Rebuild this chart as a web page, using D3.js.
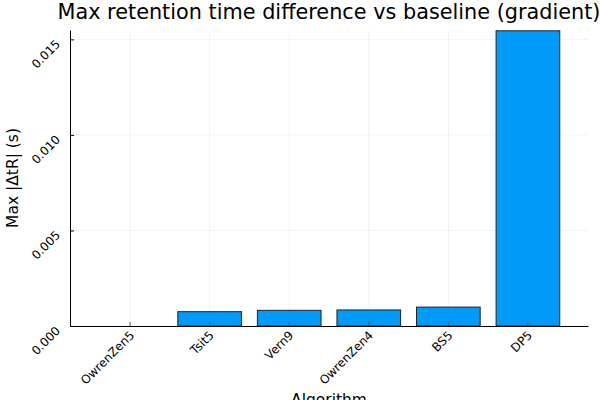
<!DOCTYPE html>
<html>
<head>
<meta charset="utf-8">
<script src="https://cdn.jsdelivr.net/npm/d3@7"></script>
<style>
  html, body { margin: 0; padding: 0; background: #fff; }
  svg { display: block; font-family: "DejaVu Sans", sans-serif; }
</style>
</head>
<body>
<svg id="chart" width="600" height="400"></svg>
<script>
const categories = ["OwrenZen5", "Tsit5", "Vern9", "OwrenZen4", "BS5", "DP5"];
const values = [0.0, 0.00075, 0.00082, 0.00084, 0.00099, 0.01545];
const yTicks = [0.000, 0.005, 0.010, 0.015];
const title = "Max retention time difference vs baseline (gradient)";
const xLabel = "Algorithm";
const yLabel = "Max |ΔtR| (s)";

const svg = d3.select("#chart");
const mLeft = 70, mRight = 588, mTop = 30, mBottom = 326;

const x = d3.scaleBand().domain(categories).range([mLeft, mRight])
  .paddingInner(0.2).paddingOuter(0.355);
const y = d3.scaleLinear().domain([0, 0.01549]).range([mBottom, mTop]);

// grid
const grid = svg.append("g");
grid.selectAll("line.vg").data(categories).enter().append("line")
  .attr("x1", d => x(d) + x.bandwidth() / 2).attr("x2", d => x(d) + x.bandwidth() / 2)
  .attr("y1", mTop).attr("y2", mBottom)
  .attr("stroke", "#000").attr("stroke-opacity", 0.1).attr("stroke-width", 0.5);
grid.selectAll("line.hg").data(yTicks).enter().append("line")
  .attr("x1", mLeft).attr("x2", mRight)
  .attr("y1", d => y(d)).attr("y2", d => y(d))
  .attr("stroke", "#000").attr("stroke-opacity", 0.1).attr("stroke-width", 0.5);

// bars
svg.append("g").selectAll("rect").data(categories).enter().append("rect")
  .attr("x", d => x(d))
  .attr("width", x.bandwidth())
  .attr("y", (d, i) => y(values[i]))
  .attr("height", (d, i) => y(0) - y(values[i]))
  .attr("fill", "#009AFA")
  .attr("stroke", "#222").attr("stroke-width", 1);

// y axis
const yAxis = d3.axisLeft(y).tickValues(yTicks).tickFormat(d3.format(".3f")).tickSizeInner(-4).tickSizeOuter(0);
const gy = svg.append("g").attr("transform", `translate(${mLeft},0)`).call(yAxis);
gy.select(".domain").attr("stroke", "#000").attr("stroke-width", 1);
gy.selectAll(".tick line").attr("stroke", "#000").attr("stroke-width", 1);
gy.selectAll(".tick text")
  .attr("font-size", 12).attr("font-family", "DejaVu Sans").attr("fill", "#000")
  .attr("text-anchor", "end")
  .attr("x", 0).attr("dy", 0)
  .attr("transform", "translate(-9,5) rotate(-45)");

// x axis
const xAxis = d3.axisBottom(x).tickSizeInner(-4).tickSizeOuter(0);
const gx = svg.append("g").attr("transform", `translate(0,${mBottom})`).call(xAxis);
gx.select(".domain").attr("stroke", "#000").attr("stroke-width", 1);
gx.selectAll(".tick line").attr("stroke", "#555").attr("stroke-width", 1);
gx.selectAll(".tick text")
  .attr("font-size", 12).attr("font-family", "DejaVu Sans").attr("fill", "#000")
  .attr("text-anchor", "end")
  .attr("y", 0).attr("dy", 0)
  .attr("transform", "translate(5,10) rotate(-45)");

// title
svg.append("text").attr("x", (mLeft + mRight) / 2).attr("y", 19)
  .attr("text-anchor", "middle").attr("font-size", 20.8).attr("fill", "#000")
  .text(title);

// axis labels
svg.append("text").attr("x", (mLeft + mRight) / 2).attr("y", 405)
  .attr("text-anchor", "middle").attr("font-size", 15.5).attr("fill", "#000")
  .text(xLabel);
svg.append("text")
  .attr("transform", `translate(18,${(mTop + mBottom) / 2}) rotate(-90)`)
  .attr("text-anchor", "middle").attr("font-size", 15.5).attr("fill", "#000")
  .text(yLabel);
</script>
</body>
</html>
